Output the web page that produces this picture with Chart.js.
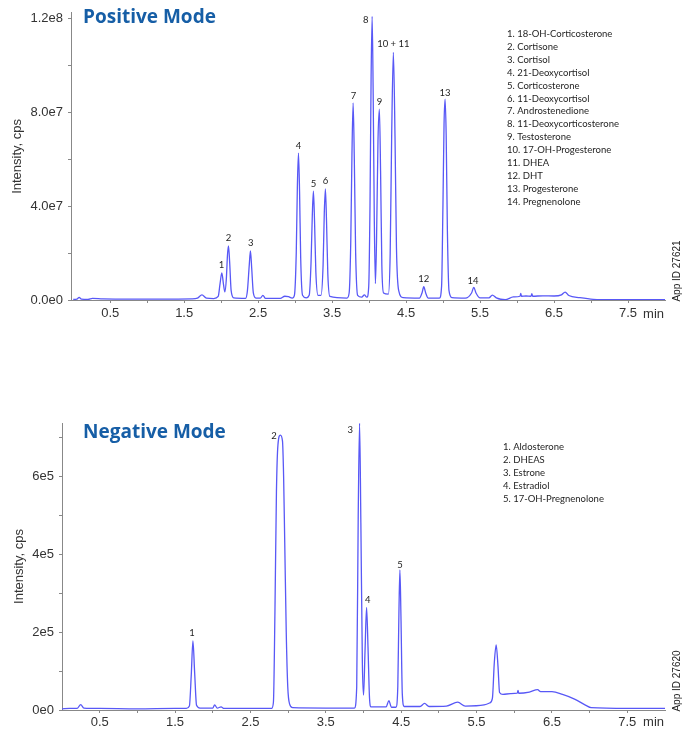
<!DOCTYPE html>
<html>
<head>
<meta charset="utf-8">
<script src="https://cdn.jsdelivr.net/npm/chart.js@4.4.0/dist/chart.umd.min.js"></script>
<style>
  body { margin: 0; background: #fff; width: 683px; height: 729px; position: relative; overflow: hidden; }
  canvas { position: absolute; left: 0; }
  #chart-pos { top: 0; }
  #chart-neg { top: 395px; }
</style>
</head>
<body>
<canvas id="chart-pos" width="683" height="335"></canvas>
<canvas id="chart-neg" width="683" height="334"></canvas>
<script>
// shared time axis ticks (min); labels only on the .5 values
const timeTicks = [0.5, 1, 1.5, 2, 2.5, 3, 3.5, 4, 4.5, 5, 5.5, 6, 6.5, 7, 7.5];

// ---- positive mode (intensity in 1e6 cps) ----
const posTime = [
  0.00, 0.05, 0.08, 0.11, 0.20, 0.26, 0.40, 0.80, 1.20, 1.60, 1.68, 1.74, 1.80, 1.90,
  1.96, 1.985, 2.009, 2.03, 2.05, 2.07, 2.085, 2.099, 2.115, 2.135, 2.17,
  2.33, 2.355, 2.38, 2.396, 2.412, 2.435, 2.47, 2.53, 2.564, 2.60,
  2.80, 2.86, 2.91, 2.96,
  2.99, 3.015, 3.03, 3.045, 3.06, 3.075, 3.10,
  3.15, 3.19, 3.215, 3.232, 3.247, 3.262, 3.28, 3.31,
  3.35, 3.378, 3.394, 3.409, 3.424, 3.442, 3.47,
  3.70, 3.73, 3.752, 3.768, 3.784, 3.80, 3.818, 3.845, 3.90, 3.936, 3.97,
  3.995, 4.012, 4.027, 4.041, 4.055, 4.07, 4.085,
  4.10, 4.12, 4.139, 4.155, 4.172, 4.195,
  4.26, 4.285, 4.305, 4.328, 4.35, 4.37, 4.40, 4.46,
  4.68, 4.715, 4.739, 4.765, 4.80,
  4.95, 4.98, 4.998, 5.013, 5.027, 5.042, 5.058, 5.08, 5.12,
  5.30, 5.385, 5.415, 5.445, 5.50,
  5.62, 5.666, 5.72, 5.84, 5.95, 6.04, 6.05, 6.06, 6.12, 6.19, 6.20, 6.21,
  6.35, 6.50, 6.60, 6.65, 6.70, 6.85, 7.03, 7.30, 8.00
];
const posIntensity = [
  0.3, 0.4, 1.1, 0.4, 0.3, 0.7, 0.5, 0.4, 0.4, 0.5, 0.8, 2.2, 0.8, 0.6,
  1.5, 7, 11.6, 7, 3.5, 9, 19, 23.1, 16, 4, 0.9,
  0.7, 4, 15, 21.0, 14, 3, 0.8, 0.8, 2.0, 0.7,
  0.7, 1.6, 1.4, 0.8,
  2, 20, 48, 62.7, 46, 18, 2,
  0.9, 2, 16, 36, 46.4, 34, 12, 2,
  2, 15, 37, 47.4, 34, 11, 1.5,
  0.8, 3, 25, 62, 84.1, 60, 20, 2, 1.2, 2.2, 1.2,
  6, 40, 95, 121, 88, 35, 7,
  25, 68, 81.4, 55, 15, 3,
  2.5, 20, 70, 105.7, 70, 22, 4, 1,
  0.8, 3, 5.7, 3, 0.8,
  0.8, 6, 40, 75, 85.7, 70, 30, 4, 1,
  0.8, 3, 5.4, 3, 0.9,
  0.9, 2.1, 0.9, 0.1, 1.3, 1.6, 2.8, 1.6, 1.7, 1.6, 2.7, 1.6,
  1.8, 1.7, 2.2, 3.4, 1.9, 1.0, 0.3, 0.1, 0.1
];
const posCompounds = [
  '18-OH-Corticosterone', 'Cortisone', 'Cortisol', '21-Deoxycortisol', 'Corticosterone',
  '11-Deoxycortisol', 'Androstenedione', '11-Deoxycorticosterone', 'Testosterone',
  '17-OH-Progesterone', 'DHEA', 'DHT', 'Progesterone', 'Pregnenolone'
];
const posPeakText = ['1', '2', '3', '4', '5', '6', '7', '8', '9', '10 + 11', '12', '13', '14'];
const posPeakTime = [2.004, 2.099, 2.401, 3.045, 3.247, 3.409, 3.788, 3.955, 4.139, 4.328, 4.739, 5.027, 5.405];
const posPeakValue = [14.9, 26.5, 24.4, 65.7, 49.7, 50.6, 86.9, 119.6, 84.7, 109.2, 9.2, 88.4, 8.2];

// ---- negative mode (intensity in 1e3 cps) ----
const negTime = [
  0.00, 0.10, 0.20, 0.248, 0.29, 0.50, 1.00, 1.50, 1.65,
  1.69, 1.715, 1.737, 1.76, 1.785, 1.83, 2.00, 2.025, 2.06, 2.11, 2.15, 2.50,
  2.78, 2.805, 2.825, 2.845, 2.865, 2.897, 2.925, 2.94, 2.955, 2.975, 2.995, 3.02, 3.06,
  3.50, 3.88, 3.91, 3.93, 3.948, 3.965, 3.985, 4.001, 4.02, 4.041, 4.06, 4.08, 4.10,
  4.30, 4.337, 4.37, 4.43, 4.455, 4.47, 4.483, 4.497, 4.515, 4.54,
  4.75, 4.81, 4.87, 5.10, 5.25, 5.35, 5.60, 5.672,
  5.71, 5.735, 5.76, 5.785, 5.805, 5.85, 5.95, 6.04, 6.05, 6.06, 6.20, 6.31, 6.35,
  6.50, 6.64, 6.80, 6.95, 7.02, 7.50, 8.00
];
const negIntensity = [
  3, 4, 4, 14, 5, 4, 3, 4, 4,
  10, 90, 177, 95, 12, 5, 5, 13, 5, 8, 4, 4,
  4, 20, 250, 560, 680, 705, 690, 600, 430, 200, 60, 15, 6,
  5, 5, 60, 500, 735, 480, 120, 38, 150, 263, 160, 30, 8,
  8, 24, 7, 7, 60, 250, 359, 240, 40, 9,
  9, 17, 9, 10, 20, 10, 13, 18,
  30, 120, 167, 110, 45, 40, 42, 43, 50, 43, 46, 52, 47,
  47, 40, 28, 12, 6, 4, 4
];
const negCompounds = ['Aldosterone', 'DHEAS', 'Estrone', 'Estradiol', '17-OH-Pregnenolone'];
const negPeakText = ['1', '2', '3', '4', '5'];
const negPeakTime = [1.724, 2.812, 3.825, 4.058, 4.483];
const negPeakValue = [196.7, 702.5, 718, 282, 371.8];

const tickFont = { family: '"Liberation Sans Narrow", "Liberation Sans", Arial', size: 13 };

const annotate = {
  id: 'annotate',
  afterDraw(chart, args, o) {
    const { ctx, chartArea, scales: { x, y } } = chart;
    ctx.save();
    ctx.textBaseline = 'middle';
    ctx.textAlign = 'left';
    ctx.fillStyle = '#165ea6';
    ctx.font = 'bold 19px "Open Sans"';
    ctx.fillText(o.title, 83, o.titleY);

    ctx.fillStyle = '#1e1e1e';
    ctx.font = '9.5px Lato';
    o.compounds.forEach((name, i) => ctx.fillText(`${i + 1}. ${name}`, o.listX, o.listY + i * o.listGap));

    ctx.textAlign = 'center';
    o.peakText.forEach((t, i) => {
      ctx.fillText(t, x.getPixelForValue(o.peakTime[i]), y.getPixelForValue(o.peakValue[i] * o.unit));
    });

    ctx.fillStyle = '#333';
    ctx.font = '13px "Liberation Sans Narrow", "Liberation Sans", Arial';
    ctx.textAlign = 'right';
    ctx.fillText('min', chartArea.right - 1, chartArea.bottom + o.minOffset);

    ctx.translate(677, o.appY);
    ctx.rotate(-Math.PI / 2);
    ctx.fillStyle = '#222';
    ctx.font = '10px "Liberation Sans", Arial';
    ctx.textAlign = 'center';
    ctx.fillText(o.appId, 0, 0);
    ctx.restore();
  }
};

function makeChromatogram(id, times, values, unit, yCfg, xCfg, notes) {
  const points = times.map((t, i) => ({ x: t, y: values[i] * unit }));
  return new Chart(document.getElementById(id), {
    type: 'line',
    data: {
      datasets: [{
        data: points,
        borderColor: '#5858f6',
        borderWidth: 1.3,
        pointRadius: 0,
        cubicInterpolationMode: 'monotone',
        fill: false
      }]
    },
    plugins: [annotate],
    options: {
      responsive: false,
      devicePixelRatio: 1,
      animation: false,
      layout: { padding: { top: xCfg.padTop, right: 18, left: 0, bottom: 0 } },
      plugins: { legend: { display: false }, tooltip: { enabled: false }, annotate: notes },
      scales: {
        x: {
          type: 'linear',
          min: xCfg.min,
          max: xCfg.max,
          afterBuildTicks: (s) => { s.ticks = timeTicks.map(v => ({ value: v })); },
          afterFit: (s) => { s.height = xCfg.height; },
          ticks: {
            font: tickFont,
            color: '#333',
            padding: xCfg.tickPad,
            maxRotation: 0,
            autoSkip: false,
            callback: (v) => (v % 1 ? v.toFixed(1) : '')
          },
          grid: { drawOnChartArea: false, drawTicks: true, tickLength: 3, color: '#888' },
          border: { color: '#888', width: 1 }
        },
        y: {
          min: 0,
          max: yCfg.max,
          afterBuildTicks: (s) => { s.ticks = yCfg.ticks.map(v => ({ value: v })); },
          afterFit: (s) => { s.width = yCfg.width; },
          ticks: {
            autoSkip: false,
            font: tickFont,
            color: '#333',
            padding: 5,
            callback: (v, i) => yCfg.labels[i]
          },
          grid: { drawOnChartArea: false, drawTicks: true, tickLength: 3, color: '#888' },
          border: { color: '#888', width: 1 },
          title: {
            display: true,
            text: 'Intensity, cps',
            font: { family: '"Liberation Sans", Arial', size: 13 },
            color: '#333',
            padding: { top: yCfg.titlePad, bottom: 0 }
          }
        }
      }
    }
  });
}

// y ticks every minor step; labels only on the major ones
const posYTicks = [0, 2e7, 4e7, 6e7, 8e7, 1e8, 1.2e8];
const posYLabels = ['0.0e0', '', '4.0e7', '', '8.0e7', '', '1.2e8'];
const negYTicks = [0, 1e5, 2e5, 3e5, 4e5, 5e5, 6e5, 7e5];
const negYLabels = ['0e0', '', '2e5', '', '4e5', '', '6e5', ''];

makeChromatogram('chart-pos', posTime, posIntensity, 1e6,
  { max: 1.2255e8, ticks: posYTicks, labels: posYLabels, width: 71, titlePad: 10 },
  { min: -0.03, max: 8.0, height: 35, padTop: 12, tickPad: 3 },
  {
    title: 'Positive Mode', titleY: 18,
    compounds: posCompounds, listX: 507, listY: 34, listGap: 12.9,
    peakText: posPeakText, peakTime: posPeakTime, peakValue: posPeakValue, unit: 1e6,
    minOffset: 14, appId: 'App ID 27621', appY: 271
  });

makeChromatogram('chart-neg', negTime, negIntensity, 1e3,
  { max: 7.36e5, ticks: negYTicks, labels: negYLabels, width: 62, titlePad: 12 },
  { min: 0, max: 8.0, height: 19, padTop: 28, tickPad: 2 },
  {
    title: 'Negative Mode', titleY: 38,
    compounds: negCompounds, listX: 503, listY: 52, listGap: 13,
    peakText: negPeakText, peakTime: negPeakTime, peakValue: negPeakValue, unit: 1e3,
    minOffset: 12, appId: 'App ID 27620', appY: 286
  });
</script>
</body>
</html>
